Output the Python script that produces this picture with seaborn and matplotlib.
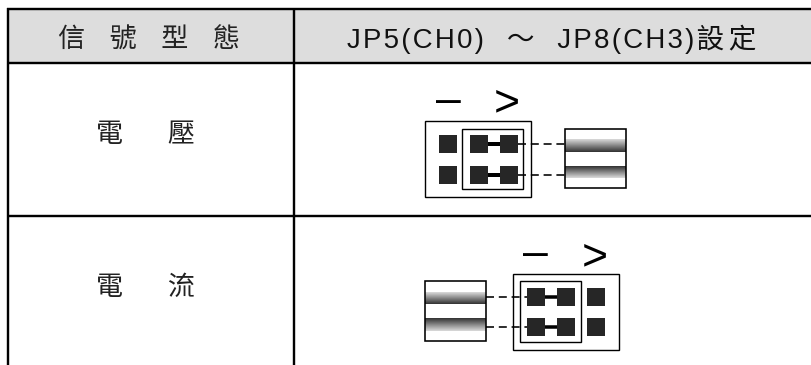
import numpy as np
import matplotlib
matplotlib.use("Agg")
import matplotlib.pyplot as plt
from matplotlib.patches import Rectangle
import seaborn as sns

W, H = 811, 365
CJK = ["Noto Sans CJK TC", "DejaVu Sans"]
LATIN = ["Liberation Sans", "Noto Sans CJK TC", "DejaVu Sans"]
HAIR = "\u200a"
THIN = "\u2009"
IDEO = "\u3000"

HEAD_LEFT = "    ".join("信號型態")
HEAD_RIGHT = HAIR.join("JP5(CH0)") + "   ～   " + HAIR.join("JP8(CH3)") + HAIR + (HAIR * 2).join("設定")
ROW_LABELS = ["電" + IDEO + "  " + THIN + "壓", "電" + IDEO + "  " + THIN + "流"]
ROW_Y = [134, 287]

HEADER_GRAY = "#dddddd"
PIN_COLOR = "#262626"

# jumper 1 (voltage): pixel layout
V_OUTER = (425, 121, 531, 197)
V_INNER = (462, 129, 523, 189)
V_PIN_X = [447.5, 478.5, 508.5]
V_PIN_Y = [144, 175]
V_WIRE_X = (480, 518)
V_DASH_X = (518, 565)
V_CONN = (565, 129, 626, 188)
V_BAND1 = (139, 152)
V_BAND2 = (166, 178)
V_MINUS = (448, 97)
V_GT = (507, 99)

# jumper 2 (current)
C_OUTER = (513, 274, 619, 350)
C_INNER = (520, 281, 581, 342)
C_PIN_X = [536, 566, 596]
C_PIN_Y = [296.5, 327]
C_WIRE_X = (533, 567)
C_DASH_X = (486, 528)
C_CONN = (425, 281, 486, 341)
C_BAND1 = (292, 304)
C_BAND2 = (318, 331)
C_MINUS = (535, 250)
C_GT = (595, 253)

sns.set_theme(style="white")
plt.rcParams["font.family"] = CJK

fig = plt.figure(figsize=(W / 100, H / 100), dpi=100)
ax = fig.add_axes([0, 0, 1, 1])
ax.axis("off")


def seg(xs, ys, lw=2, ls="-", color="black"):
    # lw in pixels
    sns.lineplot(x=list(xs), y=list(ys), ax=ax, sort=False, estimator=None, legend=False,
                 color=color, linewidth=lw * 0.72, linestyle=ls, solid_capstyle="butt")


def box(rect, lw=1.4, z=3):
    x0, y0, x1, y1 = rect
    ax.add_patch(Rectangle((x0, y0), x1 - x0, y1 - y0, fill=False, ec="black", lw=lw * 0.72, zorder=z))


def band(x0, x1, y0, y1, dark_bottom=True):
    g = np.linspace(0.85, 0.2, 32)[:, None]
    if not dark_bottom:
        g = g[::-1]
    ax.imshow(g, extent=(x0, x1, y1, y0), cmap="gray", vmin=0, vmax=1, aspect="auto", zorder=2)


def jumper(outer, inner, pin_x, pin_y, wire_x, dash_x, conn, b1, b2, minus, gt, wire_lw):
    box(outer)
    box(inner)
    px = [x for x in pin_x for _ in pin_y]
    py = [y for _ in pin_x for y in pin_y]
    sns.scatterplot(x=px, y=py, ax=ax, marker="s", s=150, color=PIN_COLOR, linewidth=0, zorder=4, legend=False)
    for y in pin_y:
        seg(wire_x, [y, y], lw=wire_lw)
        seg(dash_x, [y, y], lw=1.6, ls=(0, (5, 3)))
    band(conn[0], conn[2], b1[0], b1[1], True)
    band(conn[0], conn[2], b2[0], b2[1], False)
    box(conn, lw=1.6, z=5)
    ax.text(minus[0], minus[1], "–", family=LATIN, fontsize=32, ha="center", va="center_baseline", color="black")
    ax.text(gt[0], gt[1], ">", family=LATIN, fontsize=32, ha="center", va="center_baseline", color="black")


# table
ax.add_patch(Rectangle((8, 9), W - 8, 54, fc=HEADER_GRAY, ec="none", zorder=0))
for y in [9, 63, 216]:
    seg([7, W], [y, y], lw=2.4)
for x in [8, 294]:
    seg([x, x], [8, H], lw=2.4)

ax.text(149, 40, HEAD_LEFT, fontsize=19.5, ha="center", va="center", color="#222222")
ax.text(552, 39, HEAD_RIGHT, family=LATIN, fontsize=19.9, ha="center", va="center", color="#111111")
for label, y in zip(ROW_LABELS, ROW_Y):
    ax.text(145, y, label, fontsize=19.5, ha="center", va="center", color="#222222")

jumper(V_OUTER, V_INNER, V_PIN_X, V_PIN_Y, V_WIRE_X, V_DASH_X, V_CONN, V_BAND1, V_BAND2, V_MINUS, V_GT, 4)
jumper(C_OUTER, C_INNER, C_PIN_X, C_PIN_Y, C_WIRE_X, C_DASH_X, C_CONN, C_BAND1, C_BAND2, C_MINUS, C_GT, 3.5)

ax.set_xlim(0, W)
ax.set_ylim(H, 0)
fig.savefig("out.png", dpi=100)
